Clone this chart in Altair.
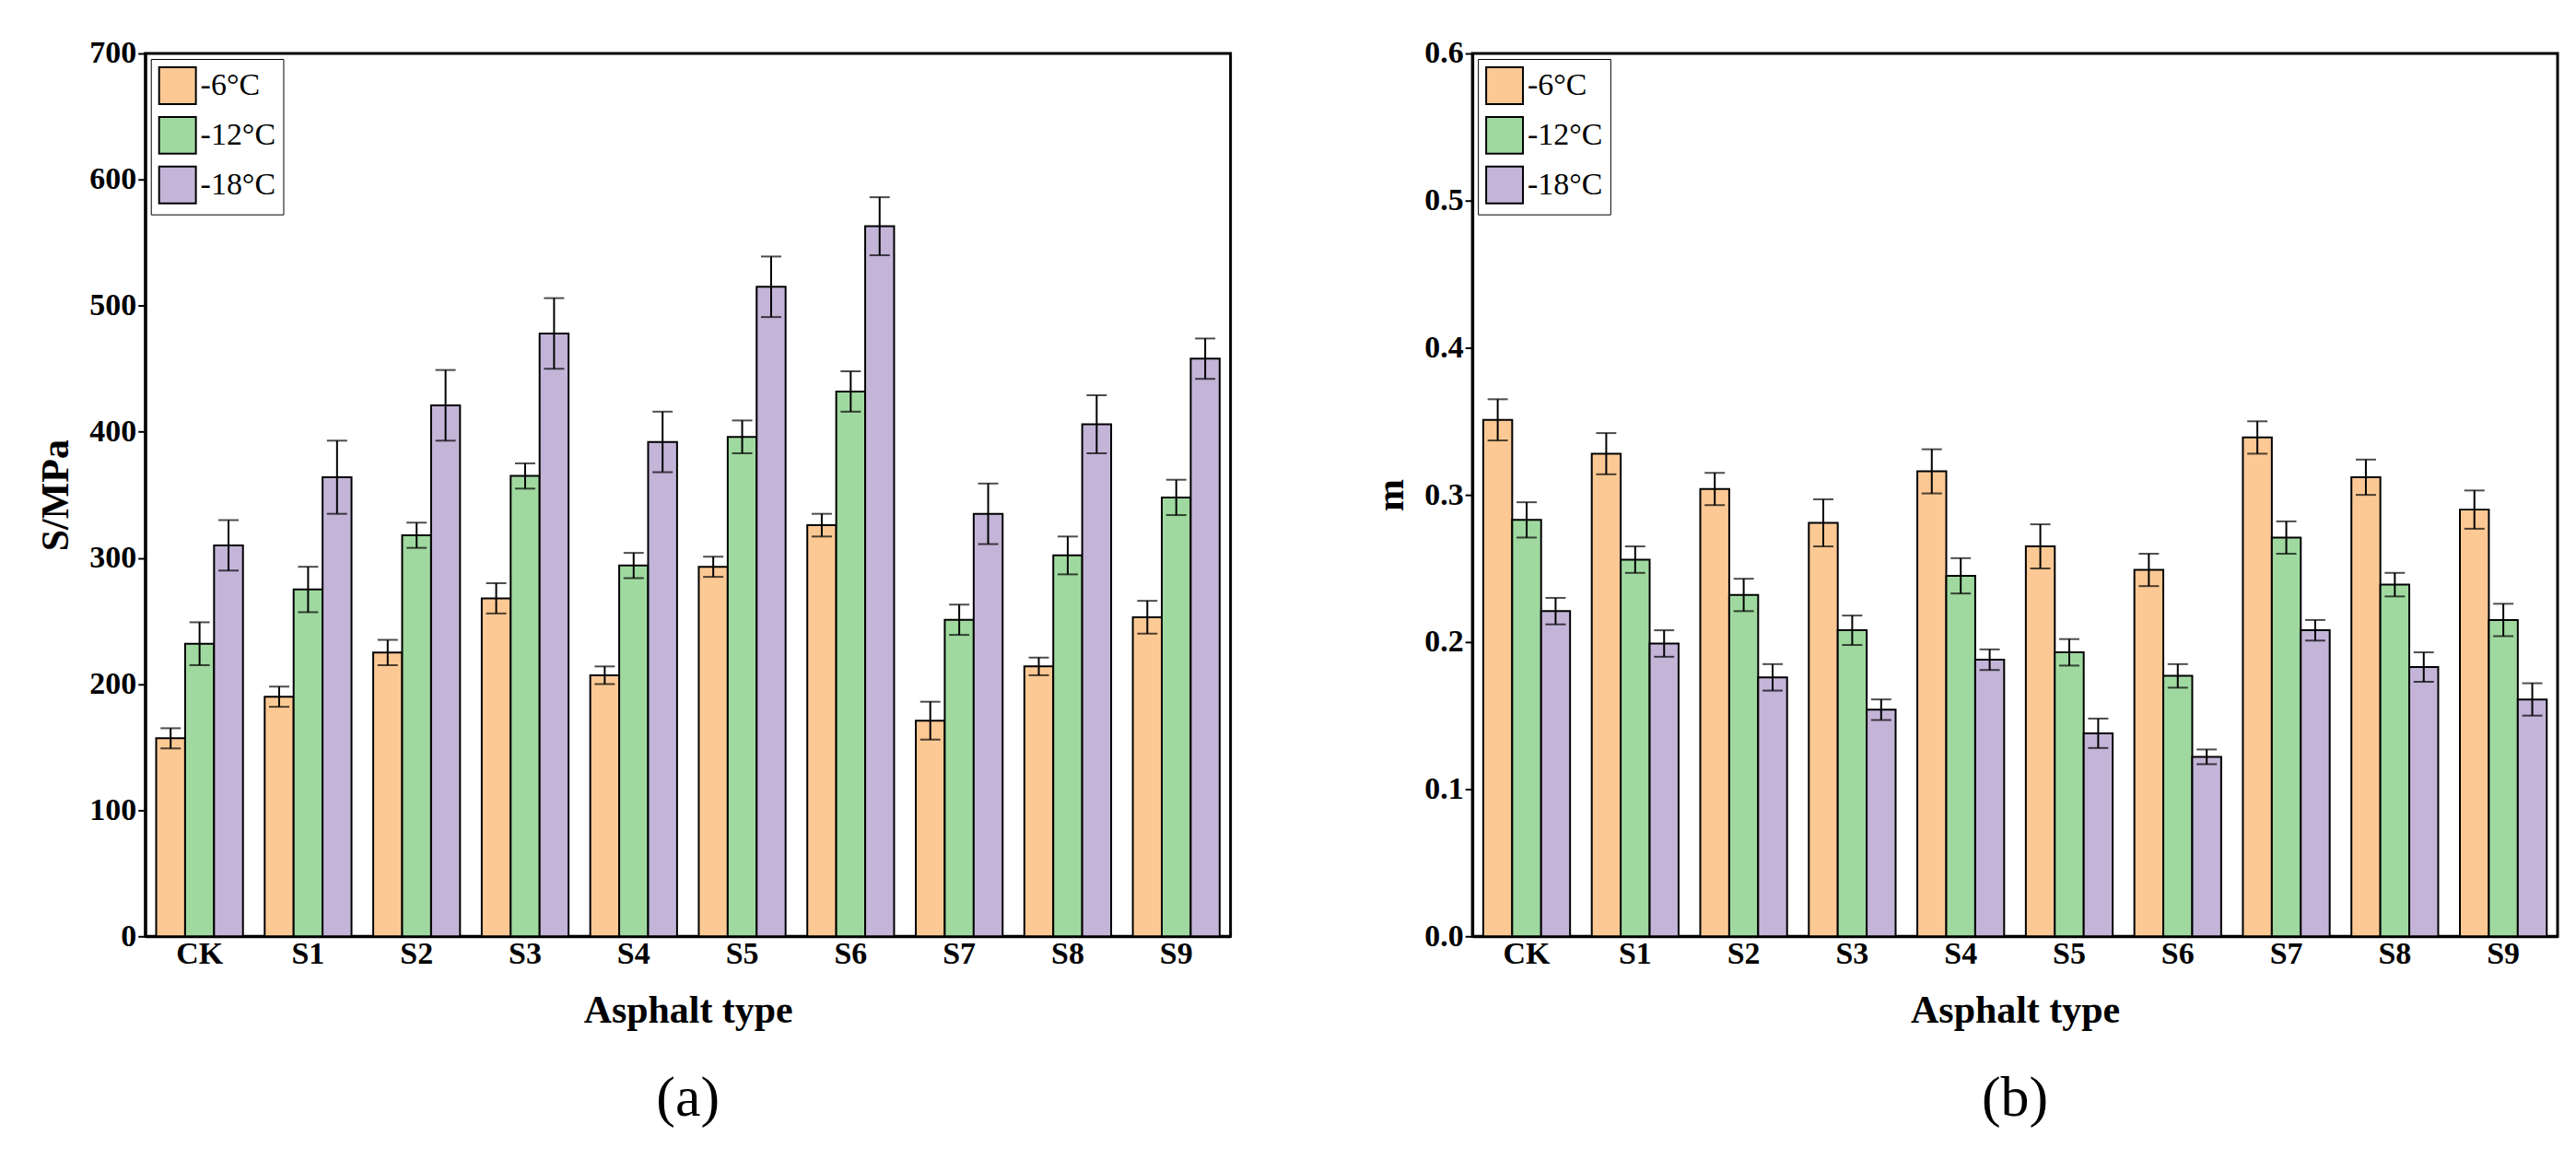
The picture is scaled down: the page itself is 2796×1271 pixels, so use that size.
import altair as alt
import pandas as pd

types = ['CK', 'S1', 'S2', 'S3', 'S4', 'S5', 'S6', 'S7', 'S8', 'S9']
temps = ['-6°C', '-12°C', '-18°C']

s_6 = [157, 190, 225, 268, 207, 293, 326, 171, 214, 253]
s_6_err = [8, 8, 10, 12, 7, 8, 9, 15, 7, 13]
s_12 = [232, 275, 318, 365, 294, 396, 432, 251, 302, 348]
s_12_err = [17, 18, 10, 10, 10, 13, 16, 12, 15, 14]
s_18 = [310, 364, 421, 478, 392, 515, 563, 335, 406, 458]
s_18_err = [20, 29, 28, 28, 24, 24, 23, 24, 23, 16]

m_6 = [0.351, 0.328, 0.304, 0.281, 0.316, 0.265, 0.249, 0.339, 0.312, 0.290]
m_6_err = [0.014, 0.014, 0.011, 0.016, 0.015, 0.015, 0.011, 0.011, 0.012, 0.013]
m_12 = [0.283, 0.256, 0.232, 0.208, 0.245, 0.193, 0.177, 0.271, 0.239, 0.215]
m_12_err = [0.012, 0.009, 0.011, 0.010, 0.012, 0.009, 0.008, 0.011, 0.008, 0.011]
m_18 = [0.221, 0.199, 0.176, 0.154, 0.188, 0.138, 0.122, 0.208, 0.183, 0.161]
m_18_err = [0.009, 0.009, 0.009, 0.007, 0.007, 0.010, 0.005, 0.007, 0.010, 0.011]

colors = ['#FCC995', '#A0D9A0', '#C3B4D8']
FONT = 'Liberation Serif'


def make_df(series, errs):
    rows = []
    for t, vals, es in zip(temps, series, errs):
        for typ, v, e in zip(types, vals, es):
            rows.append({'type': typ, 'temp': t, 'val': v, 'lo': v - e, 'hi': v + e})
    return pd.DataFrame(rows)


def panel(df, ytitle, ymax, ystep, fmt, caption):
    x = alt.X('type:N', sort=types, title='Asphalt type',
              scale=alt.Scale(paddingInner=0.2, paddingOuter=0.1),
              axis=alt.Axis(labelAngle=0, labelFontSize=34, titleFontSize=42,
                            labelFontWeight='bold', titleFontWeight='bold',
                            labelFont=FONT, titleFont=FONT, tickSize=0,
                            labelColor='black', titleColor='black',
                            domainColor='black', domainWidth=3, titlePadding=24))
    yscale = alt.Scale(domain=[0, ymax], nice=False)
    yaxis = alt.Axis(values=[round(i * ystep, 3) for i in range(int(round(ymax / ystep)) + 1)],
                     format=fmt, grid=False, labelFontSize=34, titleFontSize=42,
                     labelFontWeight='bold', titleFontWeight='bold',
                     labelFont=FONT, titleFont=FONT, tickColor='black',
                     labelColor='black', titleColor='black',
                     tickWidth=2, tickSize=8, domainColor='black', domainWidth=3,
                     titlePadding=14)
    xo = alt.XOffset('temp:N', sort=temps)
    color = alt.Color('temp:N', sort=temps, title=None,
                      scale=alt.Scale(domain=temps, range=colors),
                      legend=alt.Legend(orient='top-left', symbolType='square',
                                        symbolSize=1600, symbolStrokeColor='black',
                                        symbolStrokeWidth=2, symbolOpacity=1,
                                        labelFontSize=34, labelFont=FONT,
                                        labelColor='black',
                                        fillColor='white', strokeColor='black',
                                        padding=8, rowPadding=6, offset=6))
    base = alt.Chart(df)
    bars = base.mark_bar(stroke='black', strokeWidth=2, opacity=1).encode(
        x=x, xOffset=xo, y=alt.Y('val:Q', title=ytitle, scale=yscale, axis=yaxis),
        color=color)
    err = base.mark_rule(color='black', strokeWidth=2).encode(
        x=x, xOffset=xo, y='lo:Q', y2='hi:Q')
    cap_lo = base.mark_tick(color='black', orient='horizontal', size=22, thickness=2).encode(
        x=x, xOffset=xo, y='lo:Q')
    cap_hi = base.mark_tick(color='black', orient='horizontal', size=22, thickness=2).encode(
        x=x, xOffset=xo, y='hi:Q')
    return alt.layer(bars, err, cap_lo, cap_hi).properties(
        width=1180, height=960,
        view=alt.ViewConfig(stroke='black', strokeWidth=3),
        title=alt.TitleParams(caption, orient='bottom', fontSize=62, font=FONT,
                              fontWeight='normal', offset=45, color='black'))


left = panel(make_df([s_6, s_12, s_18], [s_6_err, s_12_err, s_18_err]),
             'S/MPa', 700, 100, 'd', '(a)')
right = panel(make_df([m_6, m_12, m_18], [m_6_err, m_12_err, m_18_err]),
              'm', 0.6, 0.1, '.1f', '(b)')

chart = alt.hconcat(left, right, spacing=150).resolve_legend(
    color='independent').resolve_scale(y='independent').properties(
    padding={'left': 30, 'top': 30, 'right': 10, 'bottom': 10}).configure_view(
    stroke='black', strokeWidth=3).configure(background='white')

chart.save('out.html', embed_options={'renderer': 'svg', 'actions': False})
